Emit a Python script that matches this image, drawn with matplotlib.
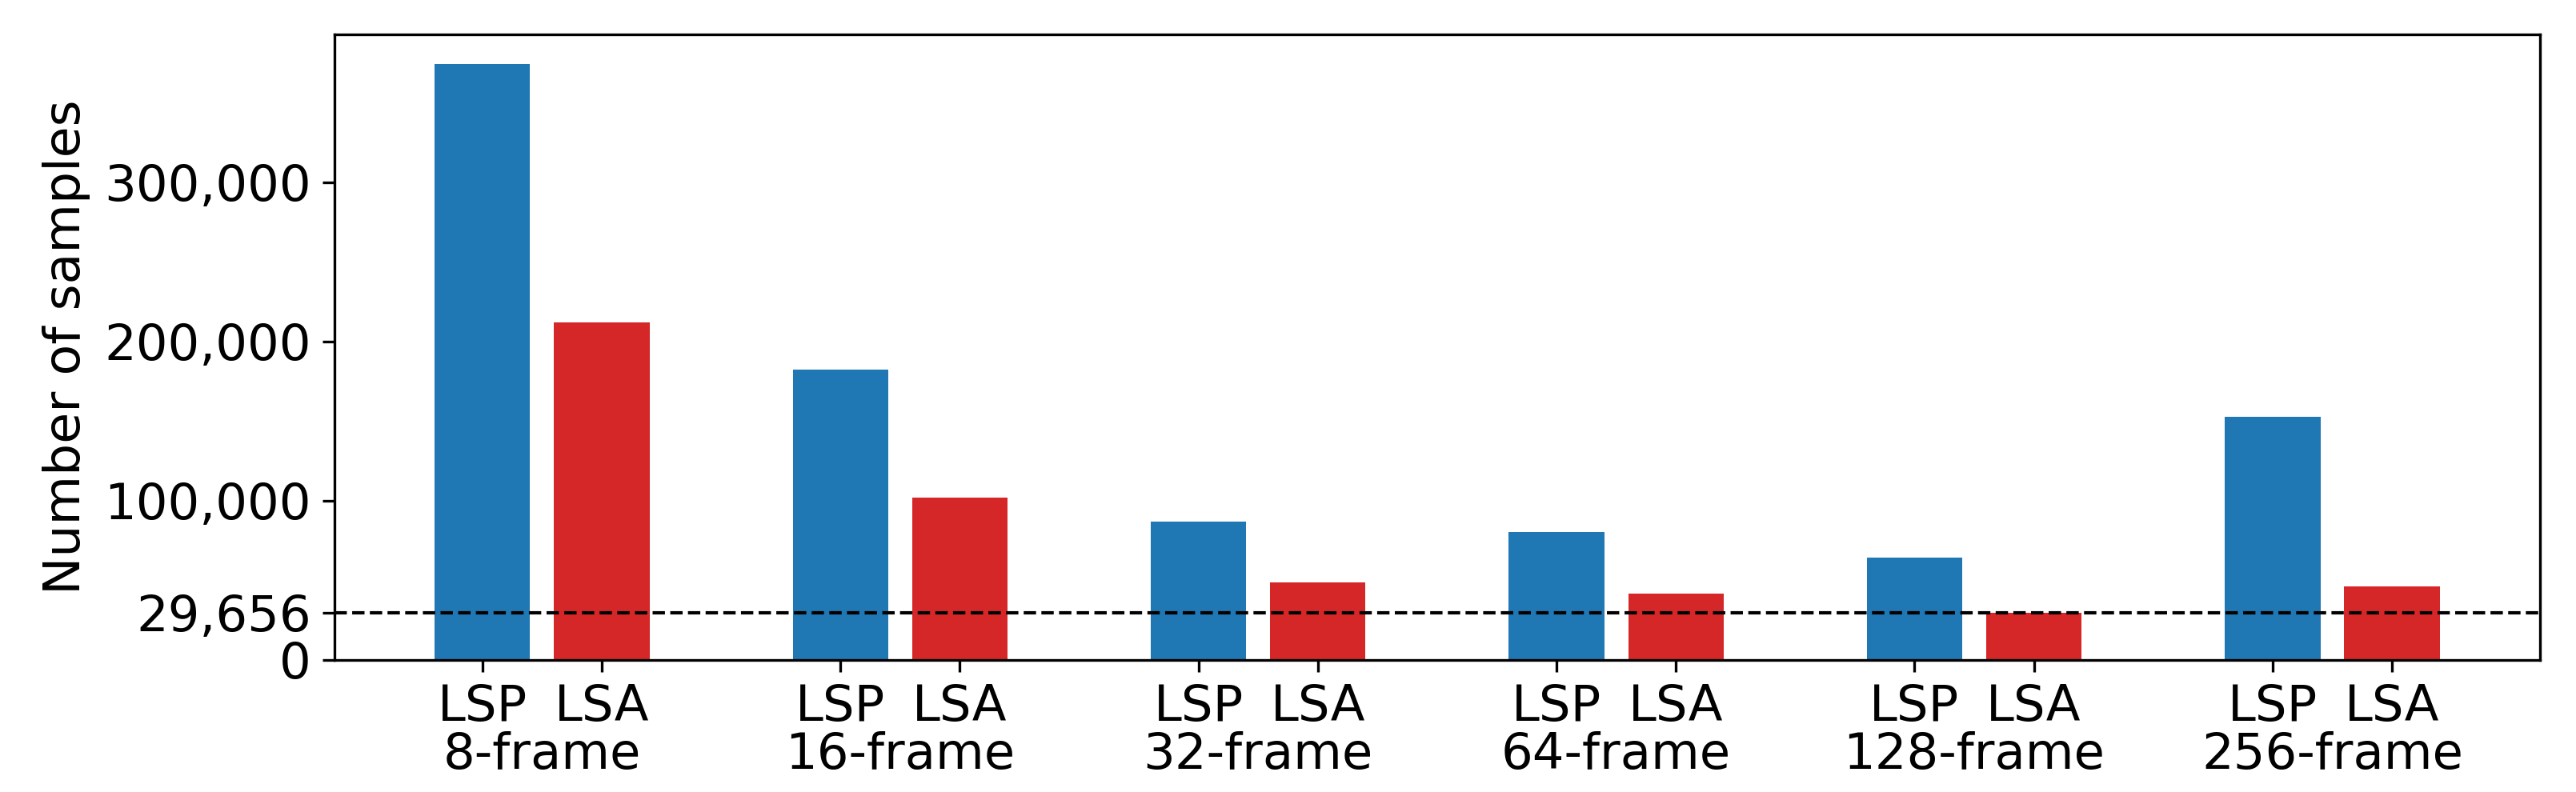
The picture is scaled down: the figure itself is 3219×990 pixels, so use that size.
import numpy as np
import matplotlib
matplotlib.use("Agg")
import matplotlib.pyplot as plt
from matplotlib.ticker import FuncFormatter

groups = ["8-frame", "16-frame", "32-frame", "64-frame", "128-frame", "256-frame"]
lsp = [374000, 182500, 86900, 80400, 64300, 152500]
lsa = [212000, 102000, 48600, 41700, 29400, 46200]
baseline = 29656
yticks = [0, baseline, 100000, 200000, 300000]

fig = plt.figure(figsize=(10.73, 3.3), dpi=300)
ax = fig.add_axes([0.1298, 0.167, 0.8562, 0.7893])

x = np.arange(len(groups)) * 3
ax.bar(x, lsp, width=0.8, color="tab:blue")
ax.bar(x + 1, lsa, width=0.8, color="tab:red")
ax.axhline(baseline, color="black", linestyle="--", linewidth=1)

ax.set_yticks(yticks)
ax.yaxis.set_major_formatter(FuncFormatter(lambda v, p: "{:,}".format(int(v))))
ax.tick_params(axis="y", labelsize=15)
ax.set_ylabel("Number of samples", fontsize=15.2)

ticks = np.ravel(np.column_stack([x, x + 1]))
ax.set_xticks(ticks)
ax.set_xticklabels(["LSP", "LSA"] * len(groups), fontsize=15)

# group names under the LSP/LSA pair
for xi, g in zip(x, groups):
    ax.annotate(g, xy=(xi + 0.5, 0), xycoords=("data", "axes fraction"),
                xytext=(0, -21.5), textcoords="offset points",
                ha="center", va="top", fontsize=15)

fig.savefig("out.png", dpi=300)
